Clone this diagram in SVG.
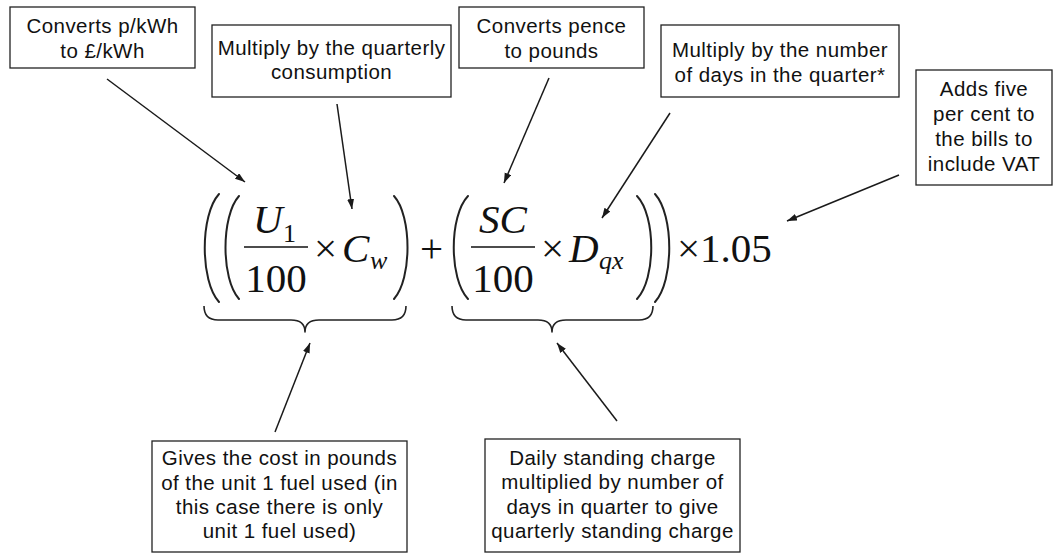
<svg xmlns="http://www.w3.org/2000/svg" width="1054" height="554" viewBox="0 0 1054 554">
<style>
.box{fill:#fff;stroke:#222;stroke-width:1.3}
.lbl{font-family:"Liberation Sans",Arial,sans-serif;font-size:20.5px;letter-spacing:0.45px;fill:#111;text-anchor:middle}
.m{font-family:"Liberation Serif","Times New Roman",serif;font-size:41px;fill:#111}
.mi{font-style:italic}
.sub{font-size:26px}
.par{fill:none;stroke:#222;stroke-width:2;stroke-linecap:round}
.brace{fill:none;stroke:#222;stroke-width:1.6;stroke-linejoin:round}
.conn{stroke:#1a1a1a;stroke-width:1.5;fill:none;marker-end:url(#ah)}
</style>
<defs>
<marker id="ah" markerUnits="userSpaceOnUse" markerWidth="11" markerHeight="8" refX="10" refY="3.5" orient="auto">
<path d="M0,0 L10,3.5 L0,7 z" fill="#1a1a1a"/>
</marker>
</defs>
<rect width="1054" height="554" fill="#fff"/>

<g id="formula">
<path class="par" d="M219 194 C200 215 200 281 219 302"/>
<path class="par" d="M239 196 C221 216 221 279 239 299"/>
<text class="m mi" x="253" y="233">U</text>
<text class="m sub" x="283" y="242">1</text>
<line x1="244" y1="247" x2="308" y2="247" stroke="#111" stroke-width="1.6"/>
<text class="m" x="276" y="292" text-anchor="middle">100</text>
<text class="m" x="314" y="262">×</text>
<text class="m mi" x="342" y="262" font-size="42">C</text>
<text class="m mi sub" x="370" y="269">w</text>
<path class="par" d="M394 196 C412 216 412 279 394 299"/>
<text class="m" x="420" y="262">+</text>
<path class="par" d="M468 196 C449 216 449 279 468 299"/>
<text class="m mi" x="503" y="233" text-anchor="middle">SC</text>
<line x1="471" y1="247" x2="535" y2="247" stroke="#111" stroke-width="1.6"/>
<text class="m" x="503" y="292" text-anchor="middle">100</text>
<text class="m" x="541" y="262">×</text>
<text class="m mi" x="569" y="262" font-size="42">D</text>
<text class="m mi sub" x="599" y="269">qx</text>
<path class="par" d="M637 196 C656 216 656 279 637 299"/>
<path class="par" d="M655 194 C674 215 674 281 655 302"/>
<text class="m" x="677" y="262">×1.05</text>
<path class="brace" d="M204 306 Q204 320 218 320 L291 320 Q305 320 305 332 Q305 320 319 320 L392 320 Q406 320 406 306"/>
<path class="brace" d="M452 306 Q452 320 466 320 L538 320 Q552 320 552 332 Q552 320 566 320 L639 320 Q653 320 653 306"/>
</g>

<g id="n1">
<rect class="box" x="10" y="7" width="185" height="61"/>
<text class="lbl" x="102.5" y="33">Converts p/kWh</text>
<text class="lbl" x="102.5" y="58">to £/kWh</text>
</g>
<g id="n2">
<rect class="box" x="212" y="25" width="239" height="72"/>
<text class="lbl" x="331.5" y="55">Multiply by the quarterly</text>
<text class="lbl" x="331.5" y="79">consumption</text>
</g>
<g id="n3">
<rect class="box" x="459" y="7" width="185" height="61"/>
<text class="lbl" x="551.5" y="33">Converts pence</text>
<text class="lbl" x="551.5" y="58">to pounds</text>
</g>
<g id="n4">
<rect class="box" x="661" y="25" width="238" height="72"/>
<text class="lbl" x="780" y="57">Multiply by the number</text>
<text class="lbl" x="780" y="82">of days in the quarter*</text>
</g>
<g id="n5">
<rect class="box" x="916" y="70" width="136" height="115"/>
<text class="lbl" x="984" y="96">Adds five</text>
<text class="lbl" x="984" y="121">per cent to</text>
<text class="lbl" x="984" y="146">the bills to</text>
<text class="lbl" x="984" y="171">include VAT</text>
</g>
<g id="n6">
<rect class="box" x="152" y="441" width="255" height="111"/>
<text class="lbl" x="279.5" y="465">Gives the cost in pounds</text>
<text class="lbl" x="279.5" y="490">of the unit 1 fuel used (in</text>
<text class="lbl" x="279.5" y="514">this case there is only</text>
<text class="lbl" x="279.5" y="538">unit 1 fuel used)</text>
</g>
<g id="n7">
<rect class="box" x="485" y="439" width="255" height="113"/>
<text class="lbl" x="612.5" y="465">Daily standing charge</text>
<text class="lbl" x="612.5" y="489">multiplied by number of</text>
<text class="lbl" x="612.5" y="514">days in quarter to give</text>
<text class="lbl" x="612.5" y="538">quarterly standing charge</text>
</g>

<g id="connectors">
<line class="conn" x1="107" y1="79" x2="245" y2="182"/>
<line class="conn" x1="337" y1="104" x2="352" y2="209"/>
<line class="conn" x1="549" y1="78" x2="504" y2="183"/>
<line class="conn" x1="670" y1="113" x2="602" y2="218"/>
<line class="conn" x1="899" y1="175" x2="787" y2="221"/>
<line class="conn" x1="275" y1="432" x2="310" y2="343"/>
<line class="conn" x1="617" y1="421" x2="557" y2="343"/>
</g>
</svg>
